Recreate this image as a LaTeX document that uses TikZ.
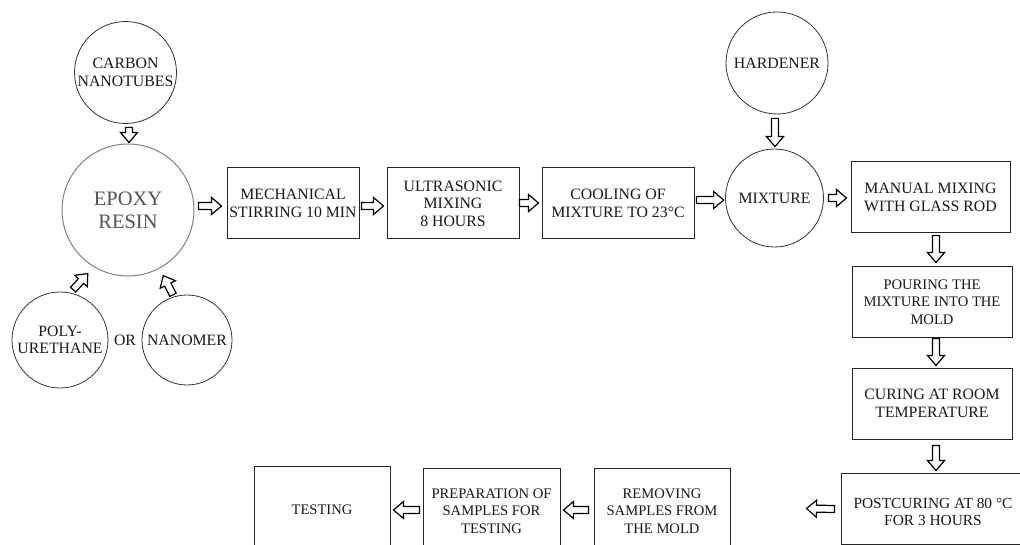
\documentclass[tikz,border=0pt]{standalone}
\usepackage{fontspec}
\setmainfont{Liberation Serif}
\usetikzlibrary{calc}
\tikzset{
  every node/.style={font=\fontsize{15.8}{17.5}\selectfont, align=center, inner sep=0pt, text=black!90},
  smalltxt/.style={font=\fontsize{14.6}{17.5}\selectfont},
  procbox/.style n args={2}{draw=black!85, line width=1pt, minimum width=#1, minimum height=#2},
  ring/.style={draw=black!80, line width=0.8pt, circle, minimum size=#1},
  hollowarrow/.style={draw=black, fill=white, line width=1.2pt, line join=miter},
}
\newcommand\barrow[2]{%
  \draw[hollowarrow] let \p1=#1, \p2=#2, \p3=($(\p2)!10pt!(\p1)$) in
    ($(\p1)!3.5pt!90:(\p2)$) -- ($(\p3)!3.5pt!-90:(\p1)$) -- ($(\p3)!8.5pt!-90:(\p1)$)
    -- (\p2) -- ($(\p3)!8.5pt!90:(\p1)$) -- ($(\p3)!3.5pt!90:(\p1)$)
    -- ($(\p1)!3.5pt!-90:(\p2)$) -- cycle;}
\begin{document}
\begin{tikzpicture}[x=1pt, y=-1pt]
\useasboundingbox (0,0) rectangle (1020,545);
\clip (0,0) rectangle (1020,545);
\fill[white] (0,0) rectangle (1020,545);

% circles
\node[ring=102] (cnt) at (125.5,72.5) {CARBON\\NANOTUBES};
\node[ring=132, draw=black!50, line width=1pt, font=\fontsize{20.5}{23}\selectfont, text=black!68] (epoxy) at (128,210) {EPOXY\\RESIN};
\node[ring=96] (pu) at (60,340) {POLY-\\URETHANE};
\node[ring=90] (nano) at (187,340) {NANOMER};
\node (or) at (125,340) {OR};
\node[ring=98] (mix) at (774.5,198) {MIXTURE};
\node[ring=102] (hard) at (777,63) {HARDENER};

% process boxes
\node[procbox={132}{71}] (mech) at (293,203.5) {MECHANICAL\\STIRRING 10 MIN};
\node[procbox={132}{71}] (ultra) at (453,203.5) {ULTRASONIC\\MIXING\\8 HOURS};
\node[procbox={152}{71}] (cool) at (618,203.5) {COOLING OF\\MIXTURE TO 23°C};
\node[procbox={159}{71}] (manual) at (930.5,197.5) {MANUAL MIXING\\WITH GLASS ROD};
\node[procbox={160}{70}, smalltxt] (pour) at (932,302) {POURING THE\\MIXTURE INTO THE\\MOLD};
\node[procbox={160}{71}] (cure) at (932,403.5) {CURING AT ROOM\\TEMPERATURE};
\node[procbox={186}{71}] (post) at (934,508.5) {};
\node[font=\fontsize{15.4}{17}\selectfont] (posttxt) at (933,512) {POSTCURING AT 80 °C\\FOR 3 HOURS};
\node[procbox={136}{86}, smalltxt] (remove) at (662,511) {REMOVING\\SAMPLES FROM\\THE MOLD};
\node[procbox={137}{86}, smalltxt] (prep) at (491.5,511) {PREPARATION OF\\SAMPLES FOR\\TESTING};
\node[procbox={136}{88}, smalltxt] (test) at (322,510) {TESTING};

% arrows
\barrow{($(cnt.south)+(3.5,3.5)$)}{($(epoxy.north)+(1,-1)$)}
\barrow{($(pu.75)+(0.6,-3.6)$)}{($(epoxy.240)+(-7,6)$)}
\barrow{($(nano.108)+(0,-2)$)}{($(epoxy.300)+(2,8)$)}
\barrow{($(epoxy.east)+(4,-4)$)}{($(mech.west)+(-5,2.5)$)}
\barrow{($(mech.east)+(2,2.5)$)}{($(ultra.west)+(-3,2.5)$)}
\barrow{($(ultra.east)+(0,-0.5)$)}{($(cool.west)+(-3,-0.5)$)}
\barrow{($(cool.east)+(2,-3.5)$)}{($(mix.west)+(-1.5,2)$)}
\barrow{($(hard.south)+(-2,4)$)}{($(mix.north)+(0.5,-2)$)}
\barrow{($(mix.east)+(4.5,0)$)}{($(manual.west)+(-4,0.5)$)}
\barrow{($(manual.south)+(5.5,2)$)}{($(pour.north)+(4,-4)$)}
\barrow{($(pour.south)+(4,1)$)}{($(cure.north)+(4,-2)$)}
\barrow{($(cure.south)+(4,6)$)}{($(post.north)+(2,-2)$)}
\barrow{($(post.west)+(-6,0.5)$)}{($(remove.east)+(76,-2.5)$)}
\barrow{($(remove.west)+(-5,-1)$)}{($(prep.east)+(3,-1)$)}
\barrow{($(prep.west)+(-3,-1)$)}{($(test.east)+(3,0)$)}
\end{tikzpicture}
\end{document}
